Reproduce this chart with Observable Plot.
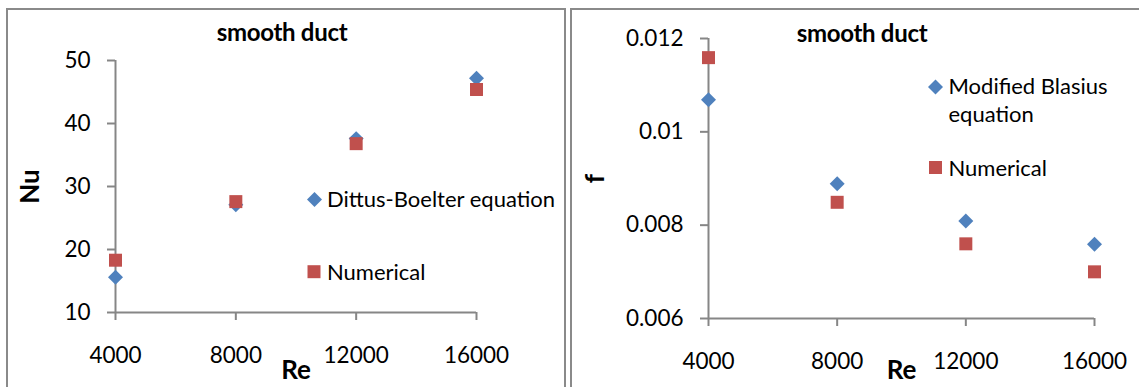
<!DOCTYPE html>
<html><head><meta charset="utf-8">
<script src="https://cdn.jsdelivr.net/npm/d3@7"></script>
<script src="https://cdn.jsdelivr.net/npm/@observablehq/plot@0.6"></script>
<style>
html,body{margin:0;padding:0;background:#fff;}
#wrap{position:relative;width:1139px;height:387px;overflow:hidden;font-family:Lato,sans-serif;}
.panel{position:absolute;box-sizing:border-box;border:2px solid #8a8a8a;pointer-events:none;}
#p1{left:6px;top:8px;width:560px;height:400px;}
#p2{left:570px;top:8px;width:600px;height:400px;}
.chart{position:absolute;top:0;}
#c1{left:0;}
#c2{left:566px;}
#overlay{position:absolute;left:0;top:0;}
g[aria-label="x-axis label"] text, g[aria-label="y-axis label"] text{font-weight:bold;font-size:26px;}
</style></head><body>
<div id="wrap">
  <div id="c1" class="chart"></div>
  <div id="c2" class="chart"></div>
  <div id="p1" class="panel"></div>
  <div id="p2" class="panel"></div>
</div>
<script>
// ---- data ----
const re = [4000, 8000, 12000, 16000];
const reTicks = [4000, 8000, 12000, 16000];
const nuDittus = [15.6, 27.1, 37.6, 47.2];
const nuNumerical = [18.3, 27.6, 36.8, 45.4];
const nuTicks = [10, 20, 30, 40, 50];
const fBlasius = [0.01069, 0.00889, 0.00809, 0.00759];
const fNumerical = [0.01159, 0.00849, 0.0076, 0.0070];
const fTicks = [0.006, 0.008, 0.010, 0.012];
const titles = ["smooth duct", "smooth duct"];
const legend1 = ["Dittus-Boelter equation", "Numerical"];
const legend2 = [["Modified Blasius", "equation"], ["Numerical"]];

const BLUE = "#4F81BD", RED = "#C0504D", GRAY = "#868686";
const DIAMOND_R = 6.75, SQUARE_R = 7.33;

function chart({width, marginLeft, marginRight, marginTop, marginBottom, yDomain, yTicks, yLabel, yLabelOffset, xLabelOffset, a, b}) {
  const rows = re.map((r, i) => ({re: r, a: a[i], b: b[i]}));
  return Plot.plot({
    width, height: 387, marginLeft, marginRight, marginTop, marginBottom,
    style: {fontFamily: "Lato, sans-serif", fontSize: "22.5px", background: "transparent", overflow: "visible", maxWidth: "none", color: "#000"},
    x: {type: "linear", domain: [reTicks[0], reTicks[reTicks.length - 1]]},
    y: {type: "linear", domain: yDomain},
    marks: [
      Plot.ruleX([reTicks[0]], {stroke: GRAY, strokeWidth: 2}),
      Plot.ruleY([yDomain[0]], {stroke: GRAY, strokeWidth: 2}),
      Plot.axisX({ticks: reTicks, tickFormat: d3.format("d"), tickSize: 8, tickPadding: 27, stroke: GRAY, strokeWidth: 2,
        label: "Re", labelAnchor: "center", labelArrow: "none", labelOffset: xLabelOffset}),
      Plot.axisY({ticks: yTicks, tickFormat: d => String(d), tickSize: 8, tickPadding: 17, stroke: GRAY, strokeWidth: 2,
        label: yLabel, labelAnchor: "center", labelArrow: "none", labelOffset: yLabelOffset}),
      Plot.dot(rows, {x: "re", y: "a", symbol: "diamond2", r: DIAMOND_R, fill: BLUE}),
      Plot.dot(rows, {x: "re", y: "b", symbol: "square", r: SQUARE_R, fill: RED})
    ]
  });
}

document.getElementById("c1").append(chart({
  width: 566, marginLeft: 115, marginRight: 90, marginTop: 60, marginBottom: 75,
  yDomain: [10, 50], yTicks: nuTicks, yLabel: "Nu", yLabelOffset: 95, xLabelOffset: 66, a: nuDittus, b: nuNumerical
}));
document.getElementById("c2").append(chart({
  width: 573, marginLeft: 142, marginRight: 45, marginTop: 38, marginBottom: 69,
  yDomain: [0.006, 0.012], yTicks: fTicks, yLabel: "f", yLabelOffset: 123, xLabelOffset: 60, a: fBlasius, b: fNumerical
}));

// ---- titles & legends overlay ----
const ov = d3.select("#wrap").append("svg").attr("id", "overlay").attr("width", 1139).attr("height", 387)
  .style("font-family", "Lato, sans-serif");
ov.append("text").attr("x", 282).attr("y", 41).attr("text-anchor", "middle").attr("font-weight", "bold").attr("font-size", 24).attr("letter-spacing", -0.3).text(titles[0]);
ov.append("text").attr("x", 862).attr("y", 42).attr("text-anchor", "middle").attr("font-weight", "bold").attr("font-size", 24).attr("letter-spacing", -0.3).text(titles[1]);

const diamondPath = d3.symbol(d3.symbolDiamond2, DIAMOND_R * DIAMOND_R * Math.PI)();
const squarePath = d3.symbol(d3.symbolSquare, SQUARE_R * SQUARE_R * Math.PI)();
function item(cx, cy, path, color, lines, tx, baselines) {
  ov.append("path").attr("d", path).attr("fill", color).attr("transform", `translate(${cx},${cy})`);
  lines.forEach((t, i) => ov.append("text").attr("x", tx).attr("y", baselines[i]).attr("font-size", 22).text(t));
}
item(314.5, 199.5, diamondPath, BLUE, [legend1[0]], 327, [207]);
item(314, 271.7, squarePath, RED, [legend1[1]], 327, [279.5]);
item(935.5, 87, diamondPath, BLUE, legend2[0], 948.5, [94, 121.5]);
item(935.5, 167.5, squarePath, RED, legend2[1], 948.5, [175.5]);
</script>
</body></html>
